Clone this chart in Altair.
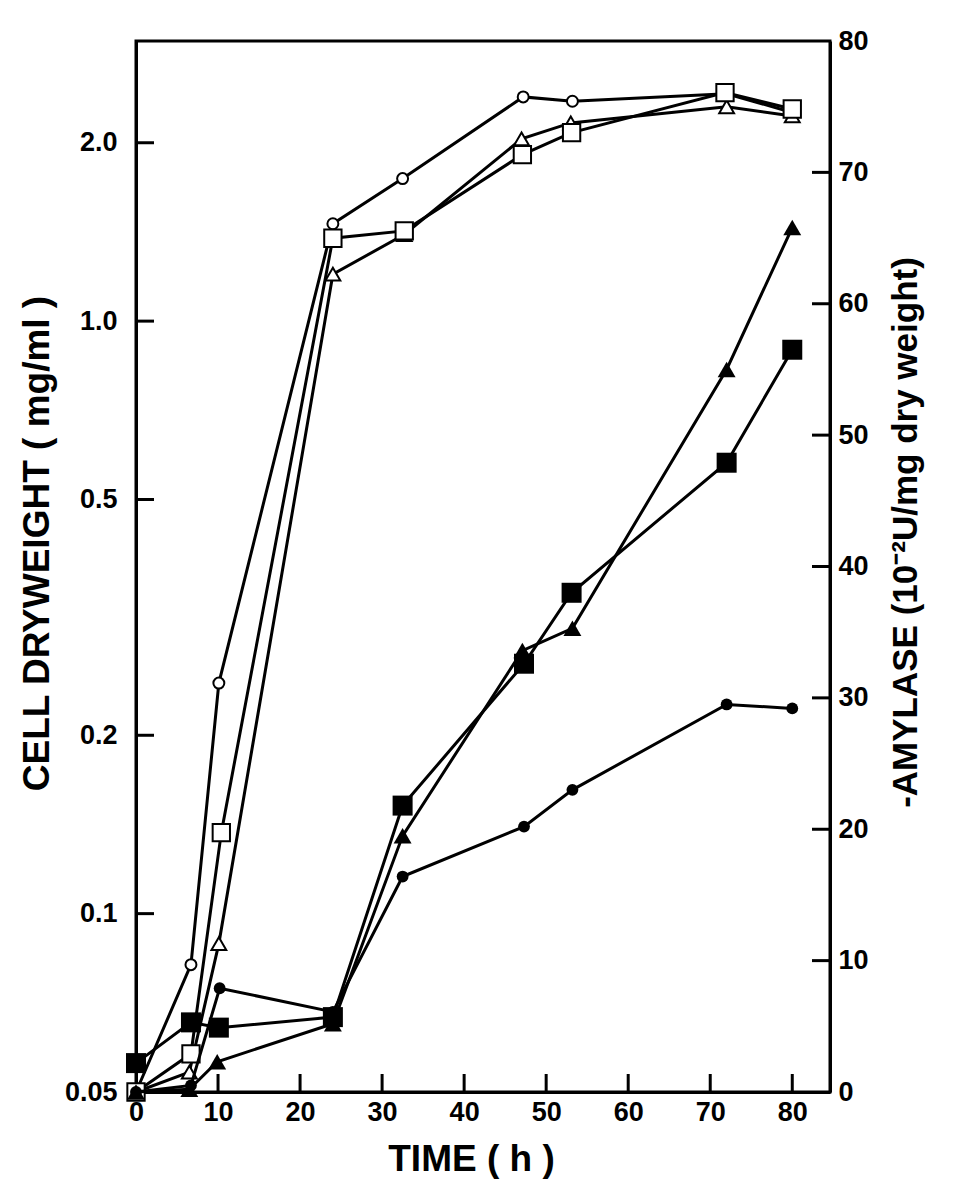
import altair as alt
import pandas as pd

# ---- data ----
# Cell dry weight (mg/ml), left log axis, open symbols
t_open_circle = [0, 6.7, 10.1, 24, 32.5, 47.2, 53.2, 72, 80]
v_open_circle = [0.05, 0.082, 0.245, 1.46, 1.74, 2.39, 2.35, 2.42, 2.25]

t_open_square = [0, 6.7, 10.4, 24, 32.7, 47.1, 53.1, 71.8, 80]
v_open_square = [0.05, 0.058, 0.137, 1.38, 1.42, 1.91, 2.08, 2.43, 2.28]

t_open_triangle = [0, 6.5, 10.1, 24, 32.7, 47.0, 53.0, 72, 80]
v_open_triangle = [0.05, 0.054, 0.089, 1.20, 1.40, 2.03, 2.16, 2.30, 2.22]

# alpha-amylase (10^-2 U/mg dry weight), right linear axis, filled symbols
t_fill_circle = [0, 6.7, 10.2, 24, 32.5, 47.3, 53.2, 72, 80]
a_fill_circle = [0, 0.5, 7.9, 6.1, 16.4, 20.2, 23.0, 29.5, 29.2]

t_fill_square = [0, 6.7, 10.1, 24, 32.5, 47.3, 53.1, 72, 80]
a_fill_square = [2.2, 5.3, 4.9, 5.7, 21.8, 32.6, 38.0, 47.9, 56.5]

t_fill_triangle = [0, 6.5, 9.9, 24, 32.5, 47.1, 53.2, 72, 80]
a_fill_triangle = [0, 0.2, 2.3, 5.2, 19.5, 33.6, 35.3, 55.0, 65.8]

x_ticks = [0, 10, 20, 30, 40, 50, 60, 70, 80]
left_ticks = [0.05, 0.1, 0.2, 0.5, 1.0, 2.0]
right_ticks = [0, 10, 20, 30, 40, 50, 60, 70, 80]

# ---- layout ----
W, H = 694, 1051
TICK = 18
FONT = "Liberation Sans"

def frame(ts, vs, col, name):
    return pd.DataFrame({"t": ts, col: vs, "series": name})

oc = frame(t_open_circle, v_open_circle, "v", "oc")
osq = frame(t_open_square, v_open_square, "v", "os")
otr = frame(t_open_triangle, v_open_triangle, "v", "ot")
fc = frame(t_fill_circle, a_fill_circle, "a", "fc")
fsq = frame(t_fill_square, a_fill_square, "a", "fs")
ftr = frame(t_fill_triangle, a_fill_triangle, "a", "ft")
open_df = pd.concat([oc, osq, otr], ignore_index=True)
fill_df = pd.concat([fc, fsq, ftr], ignore_index=True)

x_enc = alt.X(
    "t:Q",
    scale=alt.Scale(domain=[0, 84.6], nice=False, zero=False),
    axis=alt.Axis(values=x_ticks, title="TIME ( h )", format="d",
                  labelFlush=False, labelPadding=7, titlePadding=16,
                  titleX=335),
)

yl_scale = alt.Scale(type="log", domain=[0.05, 2.97], nice=False)
yl_axis = alt.Axis(
    orient="left", values=left_ticks,
    labelExpr="datum.value < 0.07 ? '0.05' : format(datum.value, '.1f')",
    title="CELL DRYWEIGHT ( mg/ml )", labelPadding=19, titlePadding=8,
    titleY=502,
)
yl = alt.Y("v:Q", scale=yl_scale, axis=yl_axis)

yr_scale = alt.Scale(domain=[0, 80], nice=False, zero=True)
yr_axis = alt.Axis(
    orient="right", values=right_ticks, format="d",
    title="-AMYLASE (10\u207b\u00b2U/mg dry weight)", titleAngle=270,
    titleBaseline="top", labelPadding=8, titlePadding=20, titleY=491,
    titleFontSize=35,
)
yr = alt.Y("a:Q", scale=yr_scale, axis=yr_axis)

# left group (open symbols, log axis)
l_lines = alt.Chart(open_df).mark_line(color="black", strokeWidth=3).encode(
    x=x_enc, y=yl, detail="series:N", order="t:Q")

def open_pts(df, shape, size):
    return alt.Chart(df).mark_point(
        shape=shape, size=size, filled=True, fill="white", stroke="black",
        strokeWidth=2, opacity=1).encode(x=x_enc, y=yl)

l_ticks = alt.Chart(pd.DataFrame({"v": left_ticks[1:]})).mark_rule(
    color="black", strokeWidth=3).encode(
    y=yl, x=alt.value(0), x2=alt.value(TICK))

x_tick_rules = alt.Chart(pd.DataFrame({"t": x_ticks[1:]})).mark_rule(
    color="black", strokeWidth=3).encode(
    x=x_enc, y=alt.value(H - TICK), y2=alt.value(H))

left = alt.layer(
    l_lines,
    open_pts(oc, "circle", 120),
    open_pts(otr, "triangle-up", 220),
    open_pts(osq, "square", 300),
    l_ticks,
    x_tick_rules,
)

# right group (filled symbols, linear axis)
r_lines = alt.Chart(fill_df).mark_line(color="black", strokeWidth=3).encode(
    x=x_enc, y=yr, detail="series:N", order="t:Q")

def fill_pts(df, shape, size):
    return alt.Chart(df).mark_point(
        shape=shape, size=size, filled=True, color="black",
        opacity=1).encode(x=x_enc, y=yr)

r_ticks = alt.Chart(pd.DataFrame({"a": right_ticks[1:-1]})).mark_rule(
    color="black", strokeWidth=3).encode(
    y=yr, x=alt.value(W), x2=alt.value(W - TICK))

right = alt.layer(
    r_lines,
    fill_pts(fc, "circle", 140),
    fill_pts(ftr, "triangle-up", 320),
    fill_pts(fsq, "square", 400),
    r_ticks,
)

chart = (
    alt.layer(left, right)
    .resolve_scale(y="independent")
    .properties(
        width=W, height=H,
        autosize=alt.AutoSizeParams(type="none"),
        padding={"left": 128, "top": 33, "right": 115, "bottom": 100},
        background="white",
    )
    .configure_view(stroke="black", strokeWidth=3)
    .configure_axis(
        domainColor="black", domainWidth=3, ticks=False, tickSize=0,
        grid=False,
        labelFont=FONT, labelFontSize=27, labelFontWeight="bold",
        labelColor="black",
        titleFont=FONT, titleFontSize=37, titleFontWeight="bold",
        titleColor="black",
    )
)

chart.save("out.html", embed_options={"renderer": "svg", "actions": False})
